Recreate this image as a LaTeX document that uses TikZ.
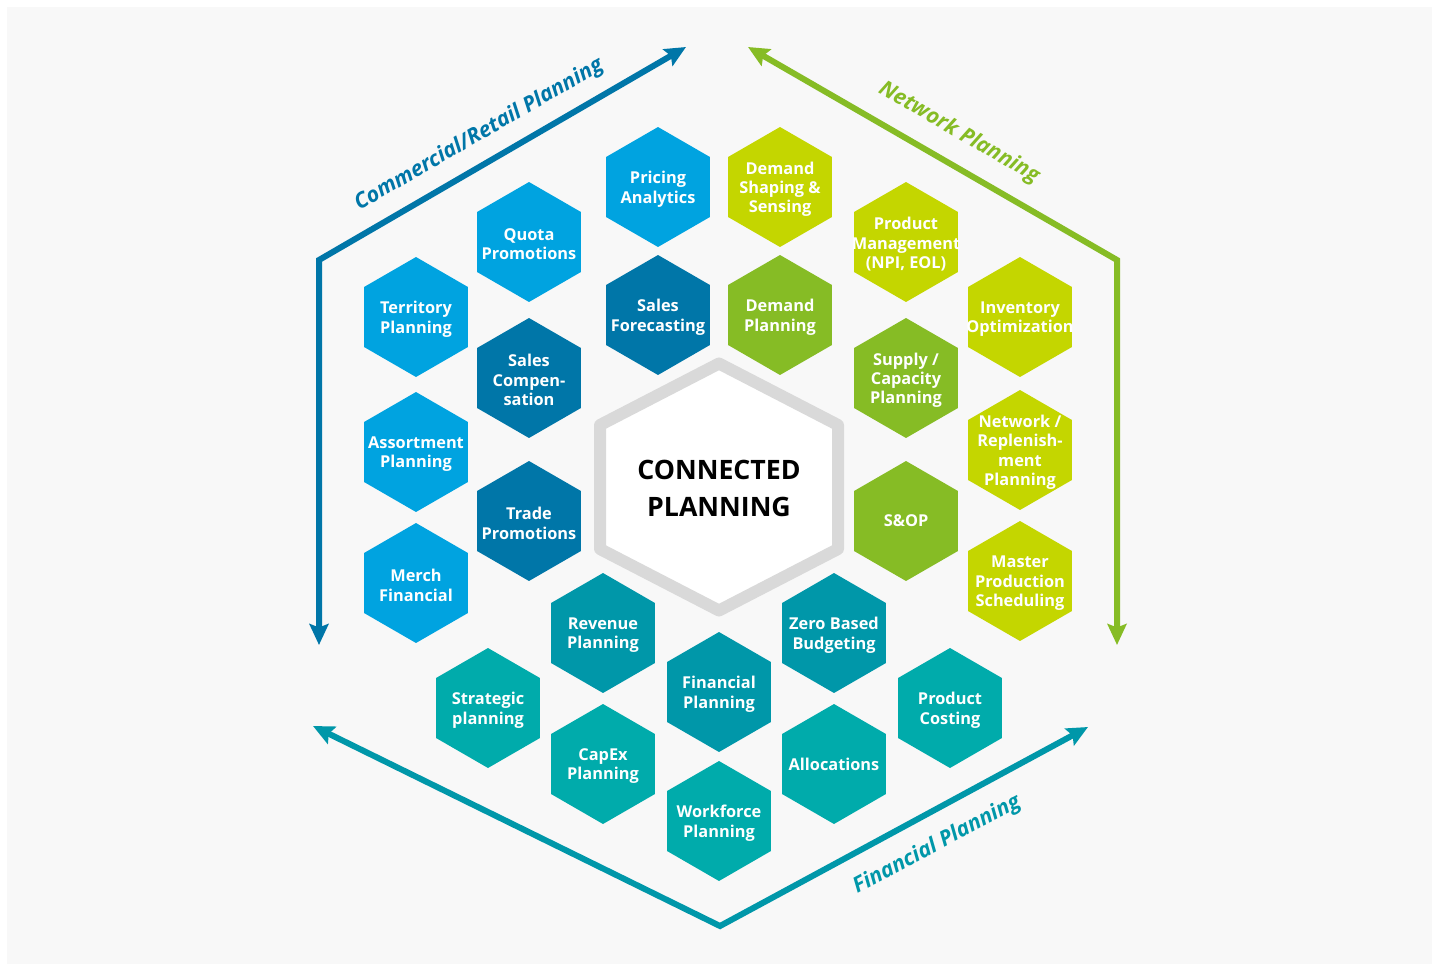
\documentclass[tikz,border=0pt]{standalone}
\usepackage{fontspec}
\setmainfont{Open Sans}
\usepackage{tikz}
\usetikzlibrary{shapes.geometric,arrows.meta}
\definecolor{lblue}{HTML}{00A3E0}
\definecolor{dblue}{HTML}{0076A8}
\definecolor{lime}{HTML}{C4D600}
\definecolor{dgreen}{HTML}{86BC25}
\definecolor{dteal}{HTML}{0097A9}
\definecolor{lteal}{HTML}{00ABAB}
\definecolor{bgpage}{HTML}{F8F8F8}
\definecolor{rim}{HTML}{D9D9D9}
\tikzset{
    cell/.style={regular polygon, regular polygon sides=6, shape border rotate=30,
        minimum size=2.4cm, inner sep=0pt, outer sep=0pt, fill=#1},
    hextext/.style={text=white, font=\bfseries\fontsize{9.3}{11.05}\selectfont,
        align=center, inner sep=0pt, yshift=-0.045cm},
    band/.style={line width=0.12cm, draw=#1, {Stealth[length=0.42cm, width=0.38cm, inset=0.07cm]}-{Stealth[length=0.42cm, width=0.38cm, inset=0.07cm]}},
    bandtext/.style={text=#1, font=\bfseries\itshape\fontsize{12.2}{15}\selectfont, inner sep=0pt}
}
\begin{document}
\begin{tikzpicture}[x=0.02cm, y=-0.02cm]
    \useasboundingbox (0,0) rectangle (1437,964);
    \fill[bgpage] (7,7) rectangle (1432,964);

    \coordinate (crEnd) at (686,47);
    \coordinate (crBend) at (319,260);
    \coordinate (crStart) at (319,645);
    \coordinate (npEnd) at (748,47);
    \coordinate (npBend) at (1117,260);
    \coordinate (npStart) at (1117,645);
    \coordinate (fpEnd) at (313,726);
    \coordinate (fpBend) at (720,926);
    \coordinate (fpStart) at (1088,727);
    \draw[band=dblue] (crEnd) -- (crBend) -- (crStart);
    \draw[band=dgreen] (npEnd) -- (npBend) -- (npStart);
    \draw[band=dteal] (fpEnd) -- (fpBend) -- (fpStart);
    \node[bandtext=dblue, rotate=30] (crLabel) at (479,135) {Commercial/Retail Planning};
    \node[bandtext=dgreen, rotate=-30] (npLabel) at (959,133) {Network Planning};
    \node[bandtext=dteal, rotate=28] (fpLabel) at (937,845) {Financial Planning};

    \draw[line width=0.24cm, draw=rim, fill=white, line join=round]
        (719,363.5) -- (838,425) -- (838,549) -- (719,610.5) -- (600,549) -- (600,425) -- cycle;
    \node[font=\bfseries\fontsize{15.2}{21.5}\selectfont, align=center, inner sep=0pt] (hub) at (719,488.5) {CONNECTED\\PLANNING};

    \node[cell=lblue, label={[hextext]center:{Pricing\\Analytics}}] (pricing) at (658,187) {};
    \node[cell=lblue, label={[hextext]center:{Quota\\Promotions}}] (quota) at (529,242) {};
    \node[cell=lblue, label={[hextext]center:{Territory\\Planning}}] (territory) at (416,317) {};
    \node[cell=lblue, label={[hextext]center:{Assortment\\Planning}}] (assortment) at (416,452) {};
    \node[cell=lblue, label={[hextext]center:{Merch\\Financial}}] (merch) at (416,583) {};
    \node[cell=dblue, label={[hextext]center:{Sales\\Forecasting}}] (forecast) at (658,315) {};
    \node[cell=dblue, label={[hextext]center:{Sales\\Compen-\\sation}}] (compensation) at (529,378) {};
    \node[cell=dblue, label={[hextext]center:{Trade\\Promotions}}] (trade) at (529,521) {};

    \node[cell=lime, label={[hextext]center:{Demand\\Shaping \&\\Sensing}}] (shaping) at (780,187) {};
    \node[cell=lime, label={[hextext]center:{Product\\Management\\(NPI, EOL)}}] (product) at (906,242) {};
    \node[cell=lime, label={[hextext]center:{Inventory\\Optimization}}] (inventory) at (1020,317) {};
    \node[cell=lime, label={[hextext]center:{Network /\\Replenish-\\ment\\Planning}}] (network) at (1020,450) {};
    \node[cell=lime, label={[hextext]center:{Master\\Production\\Scheduling}}] (master) at (1020,581) {};
    \node[cell=dgreen, label={[hextext]center:{Demand\\Planning}}] (demand) at (780,315) {};
    \node[cell=dgreen, label={[hextext]center:{Supply /\\Capacity\\Planning}}] (supply) at (906,378) {};
    \node[cell=dgreen, label={[hextext, yshift=0.045cm]center:{S\&OP}}] (sop) at (906,521) {};

    \node[cell=dteal, label={[hextext]center:{Revenue\\Planning}}] (revenue) at (603,633) {};
    \node[cell=dteal, label={[hextext]center:{Zero Based\\Budgeting}}] (zero) at (834,633) {};
    \node[cell=dteal, label={[hextext]center:{Financial\\Planning}}] (financial) at (719,692) {};
    \node[cell=lteal, label={[hextext]center:{Strategic\\planning}}] (strategic) at (488,708) {};
    \node[cell=lteal, label={[hextext]center:{Product\\Costing}}] (costing) at (950,708) {};
    \node[cell=lteal, label={[hextext]center:{CapEx\\Planning}}] (capex) at (603,764) {};
    \node[cell=lteal, label={[hextext, yshift=0.045cm]center:{Allocations}}] (allocations) at (834,764) {};
    \node[cell=lteal, label={[hextext]center:{Workforce\\Planning}}] (workforce) at (719,821) {};
\end{tikzpicture}
\end{document}
